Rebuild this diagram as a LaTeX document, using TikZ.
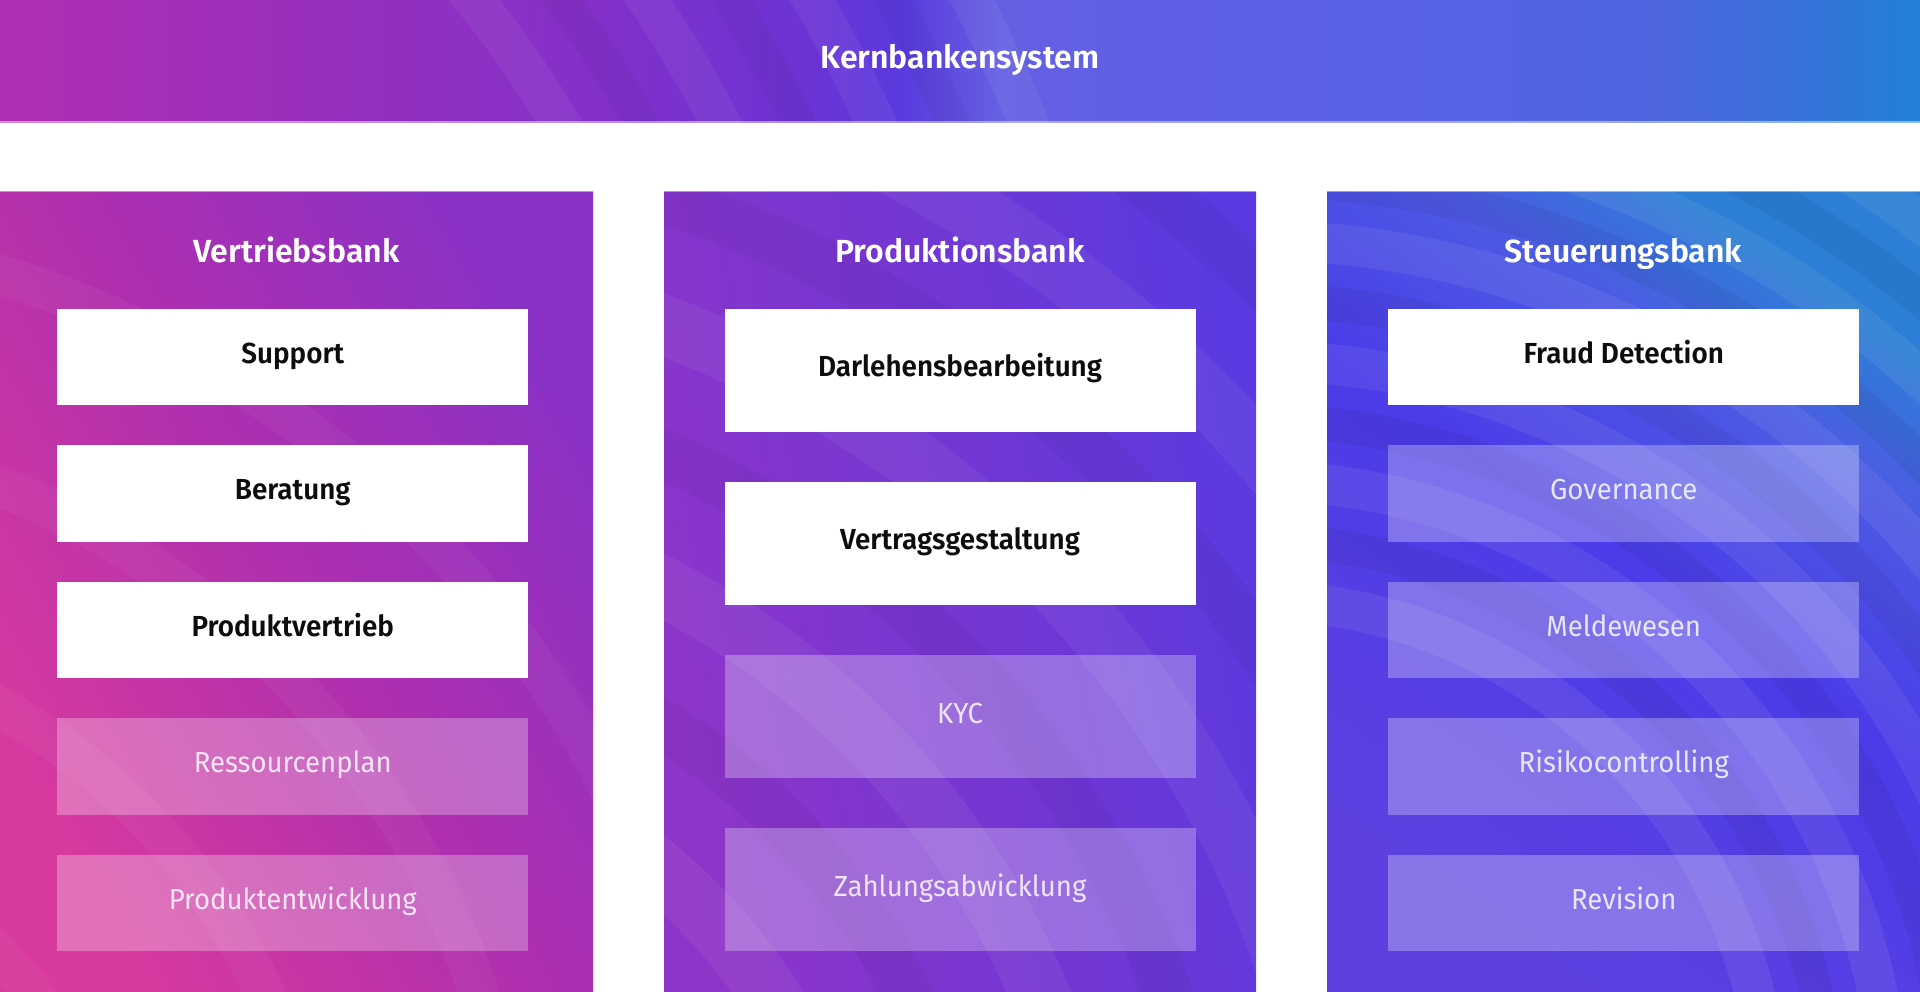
\documentclass[tikz,border=0pt]{standalone}
\usepackage{fontspec}
\setmainfont{Fira Sans}
\newfontfamily\sbfont{Fira Sans SemiBold}
\newfontfamily\sbbox{Fira Sans SemiBold}[FakeStretch=0.96]
\newfontfamily\rgbox{Fira Sans}[FakeStretch=0.95]

\definecolor{bn0}{HTML}{B02FB2}
\definecolor{bn1}{HTML}{9A2FBC}
\definecolor{bn2}{HTML}{8530C8}
\definecolor{bn3}{HTML}{6C33D4}
\definecolor{bn4}{HTML}{5A3ADE}
\definecolor{bn5}{HTML}{6560E2}
\definecolor{bn6}{HTML}{5E5FE6}
\definecolor{bn7}{HTML}{5862E6}
\definecolor{bn8}{HTML}{4C66DE}
\definecolor{bn9}{HTML}{2280D5}

\definecolor{pa0}{HTML}{D83A9E}
\definecolor{pa1}{HTML}{B02FAE}
\definecolor{pa2}{HTML}{8A31C6}

\definecolor{pb0}{HTML}{8E35C9}
\definecolor{pb1}{HTML}{7536D2}
\definecolor{pb2}{HTML}{5A3AE0}

\definecolor{pc0}{HTML}{5E40E0}
\definecolor{pc1}{HTML}{4A3CE8}
\definecolor{pc2}{HTML}{4D5AE4}
\definecolor{pc3}{HTML}{2C7ED6}

\pgfdeclarehorizontalshading{bannershade}{100bp}{color(0bp)=(bn0); color(25bp)=(bn0); color(32.5bp)=(bn1); color(40bp)=(bn2); color(46bp)=(bn3); color(48.5bp)=(bn4); color(51bp)=(bn5); color(56bp)=(bn6); color(62.5bp)=(bn7); color(68.5bp)=(bn8); color(75bp)=(bn9); color(100bp)=(bn9)}
\pgfdeclarehorizontalshading{pOne}{100bp}{color(0bp)=(pa0); color(25bp)=(pa0); color(50bp)=(pa1); color(75bp)=(pa2); color(100bp)=(pa2)}
\pgfdeclarehorizontalshading{pTwo}{100bp}{color(0bp)=(pb0); color(25bp)=(pb0); color(50bp)=(pb1); color(75bp)=(pb2); color(100bp)=(pb2)}
\pgfdeclarehorizontalshading{pThree}{100bp}{color(0bp)=(pc0); color(25bp)=(pc0); color(52bp)=(pc1); color(66bp)=(pc2); color(75bp)=(pc3); color(100bp)=(pc3)}

\tikzset{
  panelbox/.style={shade, draw=none, inner sep=0pt, minimum width=593pt, minimum height=799.5pt},
  heading/.style={font=\sbfont\fontsize{32}{38}\selectfont, text=white, anchor=base, inner sep=0pt},
  solidbox/.style={fill=white, draw=none, inner sep=0pt, minimum width=471pt, minimum height=96.5pt,
    font=\sbbox\fontsize{29}{34}\selectfont, text=black!95, text height=20pt, text depth=7pt},
  fadebox/.style={fill=white, fill opacity=0.28, text opacity=0.82, text=white, draw=none, inner sep=0pt,
    minimum width=471pt, minimum height=96.5pt,
    font=\rgbox\fontsize{29}{34}\selectfont, text height=20pt, text depth=7pt},
  tall/.style={minimum height=123pt},
  streak/.style={draw=white, draw opacity=0.055, line width=40pt},
  shadowstreak/.style={draw=black, draw opacity=0.04, line width=34pt},
  edgeline/.style={draw=white, draw opacity=0.45, line width=1.5pt}
}

\begin{document}
\begin{tikzpicture}[x=1pt,y=-1pt]
\useasboundingbox (0,0) rectangle (1920,991);
\fill[white] (0,0) rectangle (1920,991);

% banner
\node[shade, shading=bannershade, draw=none, inner sep=0pt, minimum width=1920pt, minimum height=122pt]
  (kern) at (960,61) {};

% panels
\node[panelbox, shading=pOne, shading angle=30] (vpanel) at (296.5,591.25) {};
\node[panelbox, shading=pTwo, shading angle=12, minimum width=592pt] (ppanel) at (960,591.25) {};
\node[panelbox, shading=pThree, shading angle=55] (spanel) at (1623.5,591.25) {};

% decorative streaks
\begin{scope}
  \clip (0,0) rectangle (1920,122);
  \foreach \r in {1120,1260,1400,1540} {\draw[streak] (-400,700) circle[radius=\r];}
  \foreach \r in {1190,1330,1470} {\draw[shadowstreak] (-400,700) circle[radius=\r];}
\end{scope}
\begin{scope}
  \clip (0,191.5) rectangle (593,991);
  \foreach \r in {420,620,820,1020} {\draw[streak, draw opacity=0.04] (-300,1250) circle[radius=\r];}
\end{scope}
\begin{scope}
  \clip (664,191.5) rectangle (1256,991);
  \foreach \r in {560,800,1040,1280} {\draw[streak, line width=60pt] (300,1300) circle[radius=\r];}
  \foreach \r in {680,920,1160,1400} {\draw[shadowstreak, line width=50pt] (300,1300) circle[radius=\r];}
\end{scope}
\begin{scope}
  \clip (1327,191.5) rectangle (1920,991);
  \foreach \r in {520,640,760,880,1000,1120} {\draw[streak, draw opacity=0.07] (1250,1120) circle[radius=\r];}
  \foreach \r in {580,700,820,940,1060} {\draw[shadowstreak, draw opacity=0.05] (1250,1120) circle[radius=\r];}
\end{scope}

\node[font=\sbfont\fontsize{32}{38}\selectfont, text=white, text height=22pt, text depth=7.6pt, inner sep=0pt]
  (kerntext) at (kern.center) {Kernbankensystem};

% edges
\draw[edgeline] (kern.south west) -- (kern.south east);
\draw[edgeline] (vpanel.north west) -- (vpanel.north east);
\draw[edgeline] (ppanel.north west) -- (ppanel.north east);
\draw[edgeline] (spanel.north west) -- (spanel.north east);

% headings
\node[heading] (vt) at (296.5,262.5) {Vertriebsbank};
\node[heading] (pt) at (960,262.5) {Produktionsbank};
\node[heading] (st) at (1623.5,262.5) {Steuerungsbank};

% Vertriebsbank
\node[solidbox] (support) at (292.75,356.75) {Support};
\node[solidbox] (beratung) at (292.75,493.25) {Beratung};
\node[solidbox] (pvertrieb) at (292.75,629.75) {Produktvertrieb};
\node[fadebox] (ressourcen) at (292.75,766.25) {Ressourcenplan};
\node[fadebox] (pentw) at (292.75,902.75) {Produktentwicklung};

% Produktionsbank
\node[solidbox, tall] (darlehen) at (960,370) {Darlehensbearbeitung};
\node[solidbox, tall] (vertrag) at (960,543.25) {Vertragsgestaltung};
\node[fadebox, tall] (kyc) at (960,716.5) {KYC};
\node[fadebox, tall] (zahlung) at (960,889.5) {Zahlungsabwicklung};

% Steuerungsbank
\node[solidbox] (fraud) at (1623.75,356.75) {Fraud Detection};
\node[fadebox] (gov) at (1623.75,493.25) {Governance};
\node[fadebox] (melde) at (1623.75,629.75) {Meldewesen};
\node[fadebox] (risiko) at (1623.75,766.25) {Risikocontrolling};
\node[fadebox] (revision) at (1623.75,902.75) {Revision};
\end{tikzpicture}
\end{document}
